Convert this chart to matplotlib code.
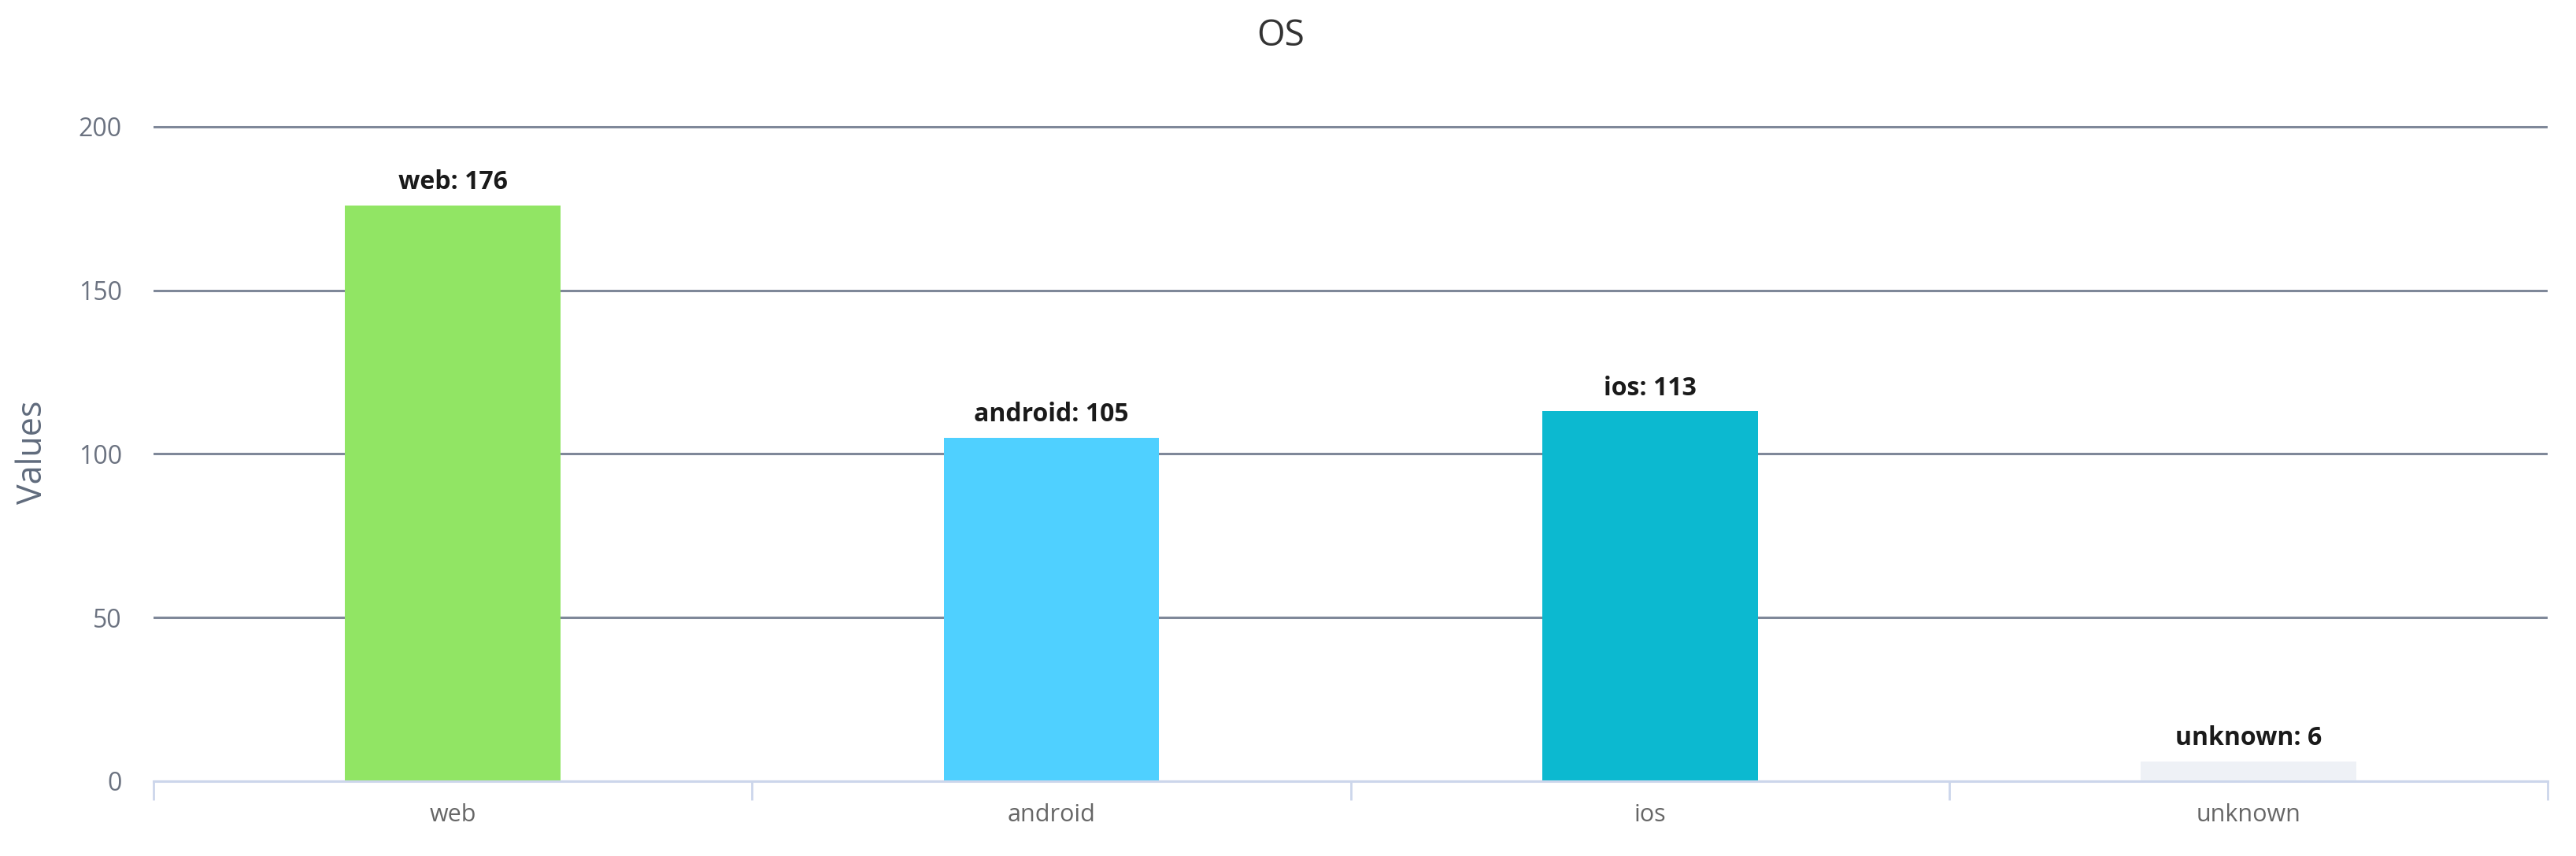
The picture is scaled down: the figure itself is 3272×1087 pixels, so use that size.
import matplotlib
matplotlib.use("Agg")
import matplotlib.pyplot as plt
from matplotlib.ticker import FixedLocator

# chart data
categories = ["web", "android", "ios", "unknown"]
values = [176, 105, 113, 6]
bar_colors = ["#91e564", "#4fd0ff", "#0cb9d0", "#eef1f6"]
y_ticks = [0, 50, 100, 150, 200]

plt.rcParams["font.family"] = ["Open Sans", "DejaVu Sans"]

fig = plt.figure(figsize=(32.73, 10.87), dpi=100)
ax = fig.add_axes([0.0596, 0.0874, 0.9291, 0.7684])

x = list(range(len(categories)))
ax.bar(x, values, width=0.36, color=bar_colors, zorder=3)

for xi, cat, v in zip(x, categories, values):
    ax.annotate(f"{cat}: {v}", xy=(xi, v), xytext=(0, 15), textcoords="offset points",
                ha="center", va="baseline", fontsize=23, fontweight="bold", color="#1a1a1a",
                zorder=4)

ax.set_xlim(-0.5, len(categories) - 0.5)
ax.set_ylim(0, 201)
ax.set_yticks(y_ticks)
ax.set_xticks(x)
ax.set_xticklabels(categories)
ax.xaxis.set_minor_locator(FixedLocator([i - 0.5 for i in range(len(categories) + 1)]))

ax.tick_params(axis="x", which="major", length=0, pad=20, labelsize=22, labelcolor="#666666")
ax.tick_params(axis="x", which="minor", length=17, width=2, color="#ccd6eb", direction="out")
ax.tick_params(axis="y", length=0, pad=29, labelsize=23, labelcolor="#6b7280")

ax.grid(axis="y", color="#7f8899", linewidth=2.2, zorder=0)
ax.grid(axis="x", visible=False)

for side in ["top", "right", "left"]:
    ax.spines[side].set_visible(False)
ax.spines["bottom"].set_color("#ccd6eb")
ax.spines["bottom"].set_linewidth(2.2)
ax.spines["bottom"].set_zorder(5)

ax.set_ylabel("Values", fontsize=31, color="#606b7c")
ax.yaxis.set_label_coords(-0.043, 0.5)

fig.text(0.497, 0.958, "OS", ha="center", va="center", fontsize=33, color="#333333")

fig.savefig("out.png", dpi=100)
